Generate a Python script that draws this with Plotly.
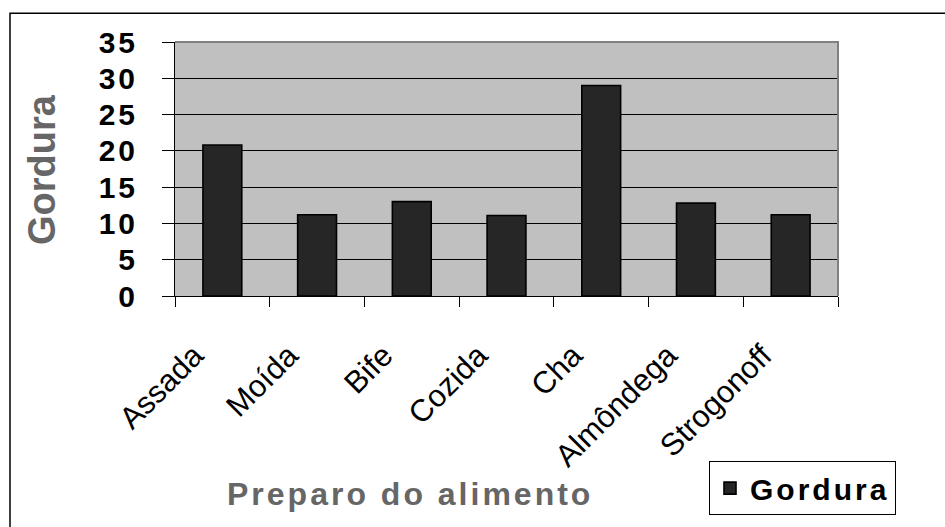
import plotly.graph_objects as go

categories = ["Assada", "Moída", "Bife", "Cozida", "Cha", "Almôndega", "Strogonoff"]
gordura = [20.8, 11.2, 13.0, 11.1, 29.0, 12.8, 11.2]
y_ticks = [0, 5, 10, 15, 20, 25, 30, 35]

series_name = "Gordura"
x_title = "Preparo do alimento"
y_title = "Gordura"

FONT = "Liberation Sans, Arial, sans-serif"

def spaced(s, px_):
    return '<span style="letter-spacing:%dpx">%s</span>' % (px_, s)

fig = go.Figure()
fig.add_trace(go.Bar(
    x=categories, y=gordura, name=spaced(series_name, 3),
    marker=dict(color="#262626", line=dict(color="#000000", width=1.6)),
    showlegend=True,
))

L, R, T, B = 175, 107, 42, 225
W, H = 945, 527
pw, ph = W - L - R, H - T - B

def px(xp):
    return (xp - L) / pw

def py(yp):
    return (H - B - yp) / ph

fig.update_layout(
    width=W, height=H,
    margin=dict(l=L, r=R, t=T, b=B, pad=0),
    paper_bgcolor="white",
    plot_bgcolor="#C0C0C0",
    bargap=0.59,
    font=dict(family=FONT, color="#000000"),
    xaxis=dict(
        type="category", tickson="boundaries", ticks="outside", ticklen=10,
        tickcolor="#000000", tickwidth=1, showline=True, linecolor="#000000", linewidth=1,
        showgrid=False, tickangle=-45,
        tickfont=dict(size=31, family=FONT, color="#000000"),
        ticklabelstandoff=28, ticklabelshift=-28,
    ),
    yaxis=dict(
        range=[0, 35], tickvals=y_ticks, ticktext=[spaced(str(v), 3) for v in y_ticks],
        ticks="outside", ticklen=12,
        tickcolor="#000000", tickwidth=1, showline=True, linecolor="#000000", linewidth=1,
        showgrid=True, gridcolor="#000000", gridwidth=1, zeroline=False,
        tickfont=dict(size=30, family=FONT, color="#000000", weight="bold"),
        ticklabelstandoff=18,
    ),
    legend=dict(
        x=px(709), y=py(471), xanchor="left", yanchor="top",
        bgcolor="white", bordercolor="#000000", borderwidth=1,
        font=dict(size=30, family=FONT, color="#000000", weight="bold"),
    ),
    shapes=[
        dict(type="path", xref="paper", yref="paper", path="M 0,1 L 1,1 L 1,0",
             line=dict(color="#808080", width=2), layer="above"),
        dict(type="rect", xref="paper", yref="paper", x0=px(10), x1=px(980), y0=py(12.5), y1=py(560),
             line=dict(color="#000000", width=1.5), layer="below"),
    ],
    annotations=[
        dict(text=y_title, xref="paper", yref="paper", x=px(42.5), y=py(172.5),
             xanchor="center", yanchor="middle", textangle=-90, showarrow=False,
             font=dict(size=38, color="#666666", weight="bold", family=FONT)),
        dict(text=spaced(x_title, 3), xref="paper", yref="paper",
             x=px(410), y=py(505), xanchor="center", yanchor="middle", showarrow=False,
             font=dict(size=32, color="#666666", weight="bold", family=FONT)),
    ],
)

fig.write_html("out.html")
